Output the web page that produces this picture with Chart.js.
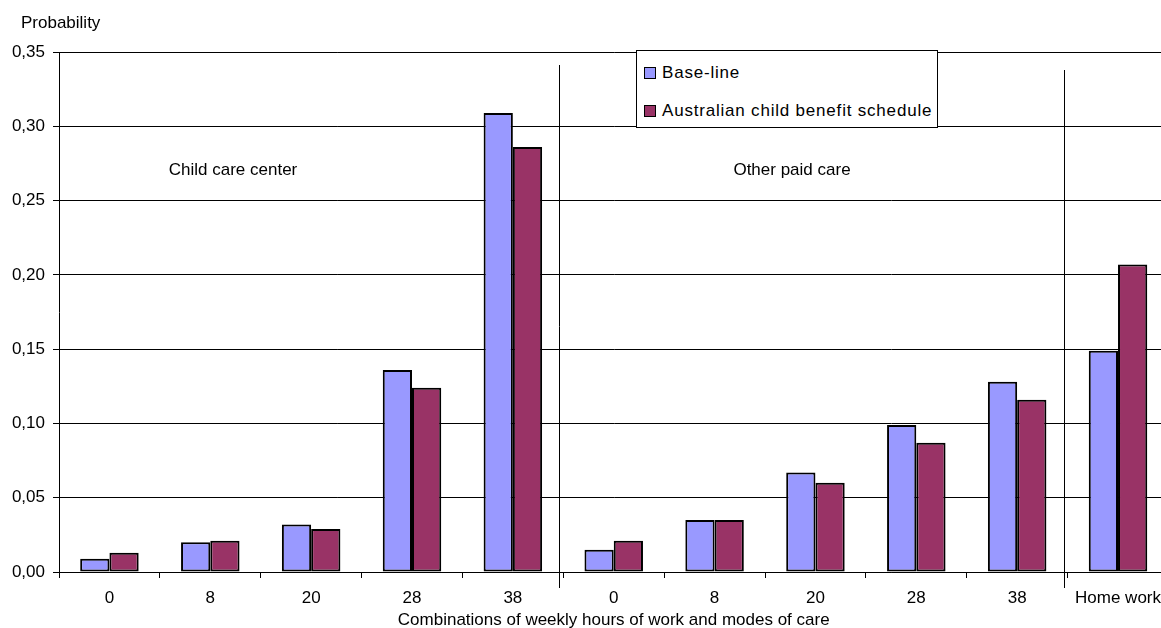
<!DOCTYPE html>
<html>
<head>
<meta charset="utf-8">
<script src="https://cdn.jsdelivr.net/npm/chart.js@4/dist/chart.umd.min.js"></script>
<style>
  html, body { margin: 0; padding: 0; background: #fff; overflow: hidden; }
  #wrap { position: absolute; left: 0; top: 0; width: 1171px; height: 628px; }
  #legend {
    position: absolute; left: 636px; top: 50px; width: 300px; height: 76px;
    background: #fff; border: 1px solid #000;
    font-family: "Liberation Sans", Arial, sans-serif; font-size: 17px; color: #000;
    letter-spacing: 0.8px;
  }
  #legend .item { position: absolute; left: 7px; height: 20px; line-height: 20px; white-space: nowrap; }
  #legend .sw { position: absolute; left: 0; top: 4px; width: 10px; height: 10px; border: 1px solid #000; }
  #legend .tx { position: absolute; left: 18px; top: 0; }
</style>
</head>
<body>
<div id="wrap">
  <canvas id="chart"></canvas>
  <div id="legend"></div>
</div>
<script>
// Weekly hours of work, grouped by mode of care
const categories = ['0', '8', '20', '28', '38', '0', '8', '20', '28', '38', 'Home work'];
const baseLine = [0.009, 0.020, 0.032, 0.136, 0.309, 0.015, 0.035, 0.067, 0.099, 0.128, 0.149];
const australianSchedule = [0.013, 0.021, 0.029, 0.124, 0.286, 0.021, 0.035, 0.060, 0.087, 0.116, 0.207];
const seriesNames = ['Base-line', 'Australian child benefit schedule'];
const seriesColors = ['#9999FF', '#993366'];
const yTicks = [0, 0.05, 0.10, 0.15, 0.20, 0.25, 0.30, 0.35];

const FONT = '"Liberation Sans", Arial, sans-serif';

// Group captions, separator lines and the axis caption drawn on top of the plot
const extras = {
  id: 'extras',
  afterDraw(chart) {
    const { ctx, scales: { x } } = chart;
    ctx.save();
    // vertical separators between the care-mode groups
    ctx.strokeStyle = '#000';
    ctx.lineWidth = 1;
    const seps = [[4, 5, 65], [9, 10, 70]];
    seps.forEach(([a, b, top]) => {
      const px = Math.round((x.getPixelForValue(a) + x.getPixelForValue(b)) / 2 - 4) + 0.5;
      ctx.beginPath();
      ctx.moveTo(px, top);
      ctx.lineTo(px, 588);
      ctx.stroke();
    });
    ctx.fillStyle = '#000';
    ctx.font = '17px ' + FONT;
    ctx.textBaseline = 'middle';
    ctx.textAlign = 'center';
    ctx.fillText('Child care center', 233, 170);
    ctx.fillText('Other paid care', 792, 170);
    ctx.textAlign = 'left';
    ctx.fillText('Probability', 21, 23);
    ctx.restore();
  }
};

const chart = new Chart(document.getElementById('chart'), {
  type: 'bar',
  data: {
    labels: categories,
    datasets: [
      { label: seriesNames[0], data: baseLine, backgroundColor: seriesColors[0] },
      { label: seriesNames[1], data: australianSchedule, backgroundColor: seriesColors[1] }
    ]
  },
  options: {
    responsive: true,
    maintainAspectRatio: false,
    devicePixelRatio: 1,
    animation: false,
    layout: { padding: { top: 52, left: 0, right: 0, bottom: 0 } },
    datasets: { bar: { categoryPercentage: 0.58, barPercentage: 1.0, borderColor: '#000', borderWidth: 2, borderSkipped: false } },
    plugins: { legend: { display: false }, tooltip: { enabled: false } },
    scales: {
      x: {
        grid: { display: true, drawOnChartArea: false, drawTicks: true, tickLength: 6, offset: true, color: '#000', lineWidth: 1 },
        border: { display: true, color: '#000', width: 1 },
        ticks: { color: '#000', font: { family: FONT, size: 17 }, padding: 10, maxRotation: 0, autoSkip: false },
        title: { display: true, text: 'Combinations of weekly hours of work and modes of care', color: '#000',
                 font: { family: FONT, size: 17 }, padding: { top: 0, bottom: -3 } },
        afterFit(scale) { scale.height = 56; }
      },
      y: {
        min: 0, max: 0.35,
        afterBuildTicks(scale) { scale.ticks = yTicks.map(v => ({ value: v })); },
        grid: { color: '#000', lineWidth: 1, tickLength: 6, drawTicks: true },
        border: { display: true, color: '#000', width: 1 },
        ticks: {
          color: '#000', font: { family: FONT, size: 17 }, padding: 8,
          callback: v => Number(v).toFixed(2).replace('.', ',')
        },
        afterFit(scale) { scale.width = 59; }
      }
    }
  },
  plugins: [extras]
});

// Legend box built from the dataset definitions
const legend = document.getElementById('legend');
chart.data.datasets.forEach((ds, i) => {
  const item = document.createElement('div');
  item.className = 'item';
  item.style.top = (i === 0 ? 12 : 50) + 'px';
  const sw = document.createElement('span');
  sw.className = 'sw';
  sw.style.background = ds.backgroundColor;
  const tx = document.createElement('span');
  tx.className = 'tx';
  tx.textContent = ds.label;
  item.appendChild(sw);
  item.appendChild(tx);
  legend.appendChild(item);
});
</script>
</body>
</html>
